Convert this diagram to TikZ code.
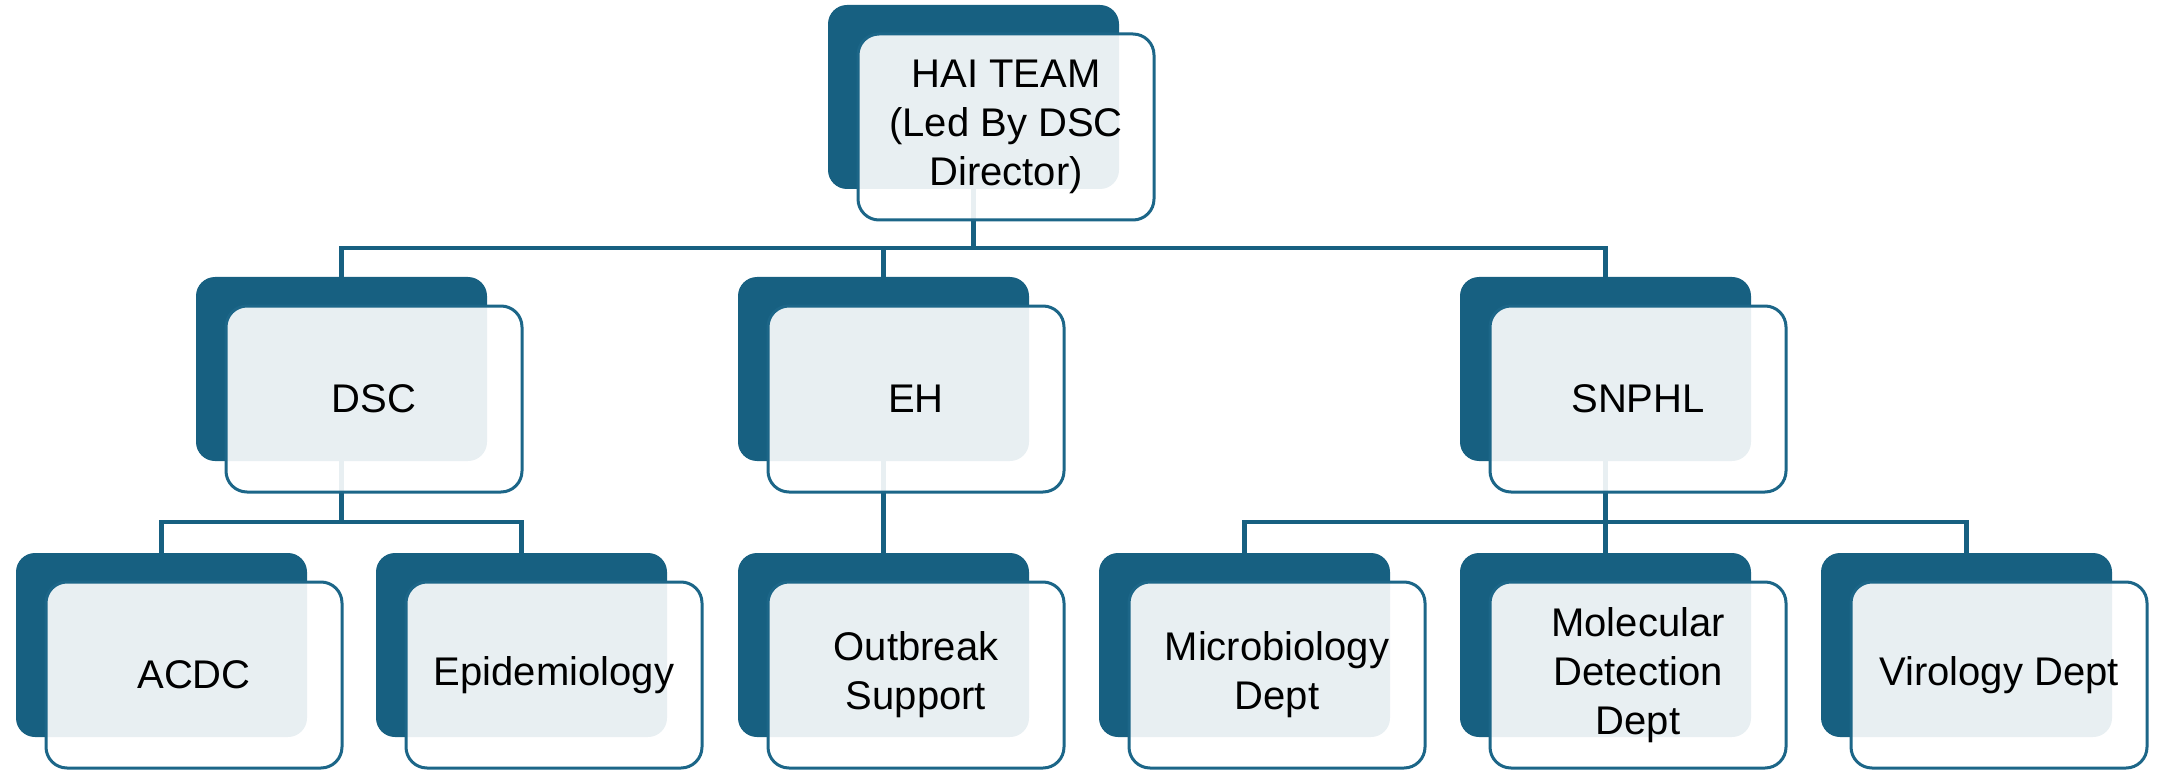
\documentclass[tikz,border=0pt]{standalone}
\usepackage{fontspec}
\setmainfont{Liberation Sans}
\usetikzlibrary{backgrounds}
\definecolor{deepblue}{RGB}{23,96,129}
\definecolor{edgeblue}{RGB}{28,102,136}
\tikzset{
  backbox/.style={rectangle, rounded corners=9.5pt, fill=deepblue, draw=none,
    minimum width=145.5pt, minimum height=92pt, inner sep=0pt},
  frontbox/.style={rectangle, rounded corners=10.5pt, fill=white, fill opacity=0.9,
    text opacity=1, draw=edgeblue, draw opacity=1, line width=1.5pt,
    minimum width=148pt, minimum height=93pt, inner sep=0pt, align=center,
    font=\fontsize{20}{24.5}\selectfont},
  conn/.style={draw=deepblue, line width=2.2pt}
}
% one unit: dark back card placed by its top-left corner (px units),
% with a translucent front card offset right and down that holds the text
\newcommand{\orgunit}[4]{% name, left x, top y, text
  \node[backbox] (#1B) at (#2+145.5,#3+92) {};
  \node[frontbox] (#1) at (#2+178,#3+122) {#4};
}
\begin{document}
\begin{tikzpicture}[x=0.5pt,y=-0.5pt]
\useasboundingbox (0,0) rectangle (2162,770);
\coordinate (barA) at (0,248);
\coordinate (barB) at (0,522);

\orgunit{hai}{828}{5}{HAI TEAM\\(Led By DSC\\Director)}
\orgunit{dsc}{196}{277}{DSC}
\orgunit{eh}{738}{277}{EH}
\orgunit{sn}{1460}{277}{SNPHL}
\orgunit{acdc}{16}{553}{ACDC}
\orgunit{epi}{376}{553}{Epidemiology}
\orgunit{ob}{738}{553}{Outbreak\\Support}
\orgunit{mic}{1099}{553}{Microbiology\\Dept}
\orgunit{mol}{1460}{553}{Molecular\\Detection\\Dept}
\orgunit{vir}{1821}{553}{Virology Dept}

% connectors run behind the cards
\begin{scope}[on background layer]
\draw[conn] (haiB.center) -- (haiB.center |- barA);
\draw[conn] (dscB.north) |- (snB.north |- barA) -- (snB.north);
\draw[conn] (ehB.north) -- (ehB.north |- barA);

\draw[conn] (dscB.center) -- (dscB.center |- barB);
\draw[conn] (acdcB.north) |- (epiB.north |- barB) -- (epiB.north);

\draw[conn] (ehB.center) -- (obB.north);

\draw[conn] (snB.center) -- (snB.center |- barB);
\draw[conn] (micB.north) |- (virB.north |- barB) -- (virB.north);
\draw[conn] (molB.north) -- (molB.north |- barB);
\end{scope}
\end{tikzpicture}
\end{document}
